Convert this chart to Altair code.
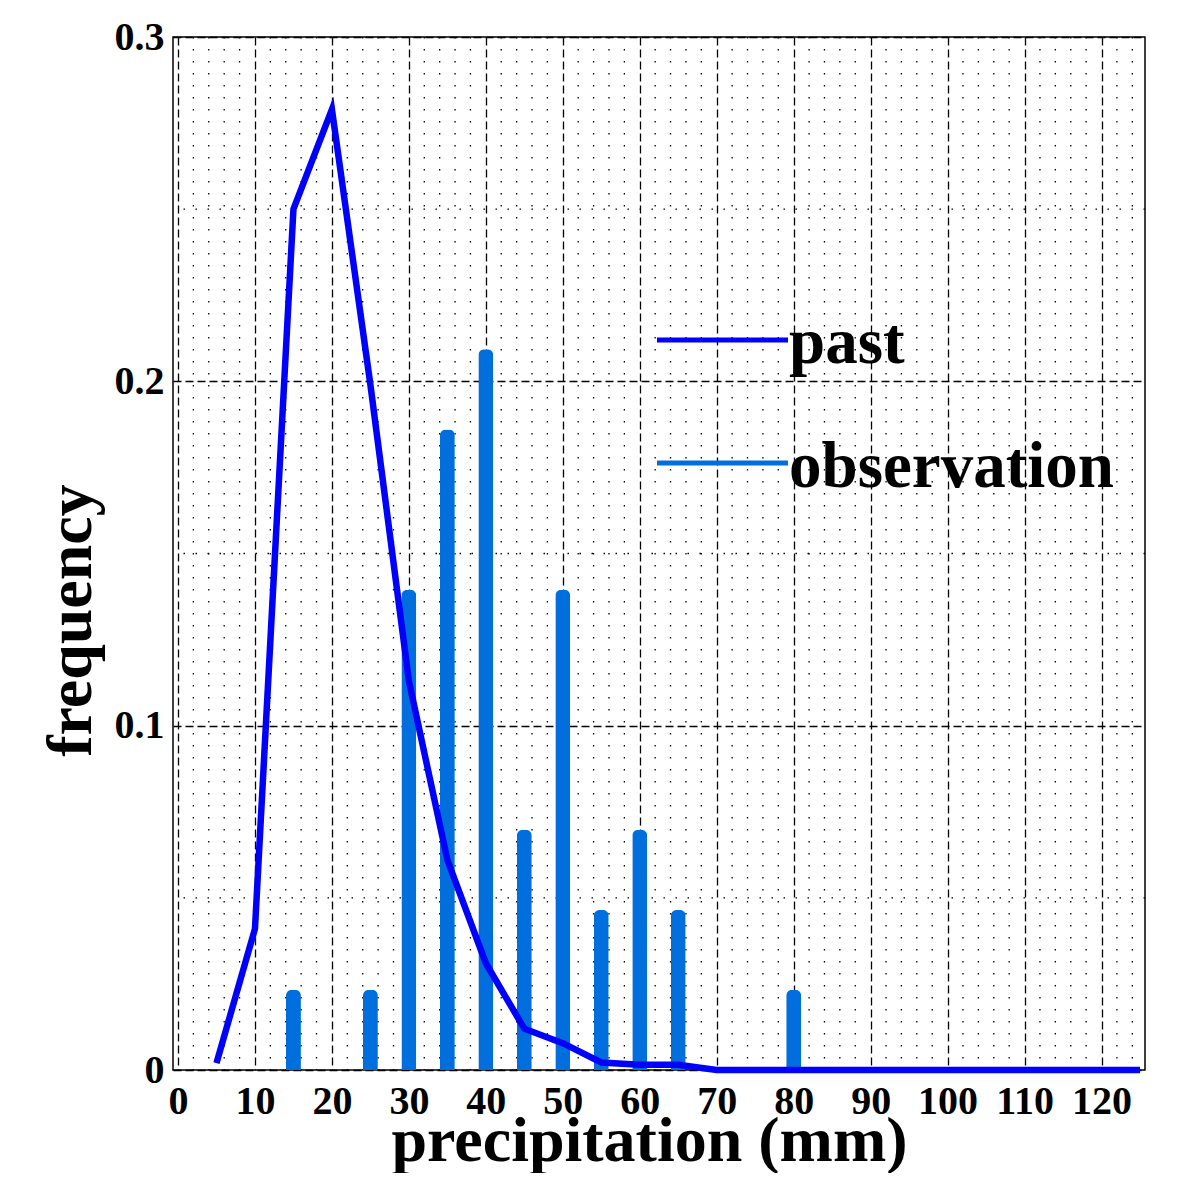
import altair as alt
import pandas as pd

# ---- data ----
past_x = [5, 10, 15, 20, 25, 30, 35, 40, 45, 50, 55, 60, 65,
          70, 75, 80, 85, 90, 95, 100, 105, 110, 115, 120, 125]
past_y = [0.002, 0.041, 0.250, 0.279, 0.199, 0.113, 0.061, 0.031, 0.012, 0.0078, 0.0022, 0.0015, 0.0015,
          0.0, 0.0, 0.0, 0.0, 0.0, 0.0, 0.0, 0.0, 0.0, 0.0, 0.0, 0.0]

obs_x = [15, 25, 30, 35, 40, 45, 50, 55, 60, 65, 80]
obs_y = [0.0233, 0.0233, 0.1395, 0.1860, 0.2093, 0.0698, 0.1395, 0.0465, 0.0698, 0.0465, 0.0233]

# major ticks (labelled, dashed grid)
x_major = [0, 10, 20, 30, 40, 50, 60, 70, 80, 90, 100, 110, 120]
y_major = [0, 0.1, 0.2, 0.3]
# minor ticks (dotted grid)
x_minor = [2, 4, 6, 8, 12, 14, 16, 18, 22, 24, 26, 28, 32, 34, 36, 38, 42, 44, 46, 48,
           52, 54, 56, 58, 62, 64, 66, 68, 72, 74, 76, 78, 82, 84, 86, 88, 92, 94, 96, 98,
           102, 104, 106, 108, 112, 114, 116, 118, 122, 124]
y_minor = [0.05, 0.15, 0.25]

legend_labels = ["past", "observation"]
past_color = "#0000FF"
obs_color = "#006EDC"

FONT = "Liberation Serif"

past_df = pd.DataFrame({"x": past_x, "y": past_y})
obs_df = pd.DataFrame({"x": obs_x, "y": obs_y})
xminor_df = pd.DataFrame({"x": x_minor})
yminor_df = pd.DataFrame({"y": y_minor})

x_scale = alt.Scale(domain=[0, 125], nice=False, zero=False)
y_scale = alt.Scale(domain=[0, 0.3], nice=False)

x_axis = alt.Axis(
    values=x_major,
    tickCount=100,
    format="d",
    grid=True, gridColor="black", gridWidth=1.3, gridDash=[8, 4],
    ticks=False, domain=False,
    labelFont=FONT, labelFontSize=40, labelFontWeight="bold", labelColor="black",
    labelPadding=11, labelFlush=False, labelOverlap=False, labelBaseline="top",
    title="precipitation (mm)",
    titleFont=FONT, titleFontSize=64, titleFontWeight="bold", titleColor="black",
    titleX=476, titleY=90, titleBaseline="alphabetic", titleAlign="center",
)

y_axis = alt.Axis(
    values=y_major,
    tickCount=100,
    labelExpr="datum.value === 0 ? '0' : format(datum.value, '.1f')",
    grid=True, gridColor="black", gridWidth=1.3, gridDash=[8, 4],
    ticks=False, domain=False,
    labelFont=FONT, labelFontSize=40, labelFontWeight="bold", labelColor="black",
    labelPadding=9, labelOverlap=False, labelBaseline="middle",
    title="frequency",
    titleFont=FONT, titleFontSize=64, titleFontWeight="bold", titleColor="black",
    titleAngle=270, titleX=-102, titleY=583, titleBaseline="middle", titleAlign="center",
)

minor_x_rules = alt.Chart(xminor_df).mark_rule(
    color="black", strokeWidth=1.3, strokeDash=[1.5, 10.5]
).encode(x=alt.X("x:Q", scale=x_scale, axis=x_axis))

minor_y_rules = alt.Chart(yminor_df).mark_rule(
    color="black", strokeWidth=1.3, strokeDash=[1.5, 10.5]
).encode(y=alt.Y("y:Q", scale=y_scale, axis=y_axis))

bars = alt.Chart(obs_df).mark_bar(
    size=15, color=obs_color, orient="vertical",
    cornerRadiusTopLeft=6, cornerRadiusTopRight=6,
).encode(
    x=alt.X("x:Q", scale=x_scale, axis=x_axis),
    y=alt.Y("y:Q", scale=y_scale, axis=y_axis),
)

line = alt.Chart(past_df).mark_line(color=past_color, strokeWidth=6.5).encode(
    x=alt.X("x:Q", scale=x_scale, axis=x_axis),
    y=alt.Y("y:Q", scale=y_scale, axis=y_axis),
)

one = pd.DataFrame({"k": [0]})

leg_rule_past = alt.Chart(one).mark_rule(color=past_color, strokeWidth=5).encode(
    x=alt.value(484), x2=alt.value(615), y=alt.value(303))
leg_rule_obs = alt.Chart(one).mark_rule(color=obs_color, strokeWidth=5).encode(
    x=alt.value(484), x2=alt.value(615), y=alt.value(426))
leg_text_past = alt.Chart(one).mark_text(
    text=legend_labels[0], align="left", baseline="alphabetic",
    font=FONT, fontSize=65, fontWeight="bold", color="black",
).encode(x=alt.value(616), y=alt.value(326))
leg_text_obs = alt.Chart(one).mark_text(
    text=legend_labels[1], align="left", baseline="alphabetic",
    font=FONT, fontSize=65, fontWeight="bold", color="black",
).encode(x=alt.value(616), y=alt.value(450))

chart = alt.layer(
    minor_x_rules, minor_y_rules, bars, line,
    leg_rule_past, leg_rule_obs, leg_text_past, leg_text_obs
).properties(
    width=972, height=1033,
    autosize=alt.AutoSizeParams(type="none"),
    padding={"left": 165, "top": 29, "right": 40, "bottom": 103},
    background="white",
).configure_view(
    stroke="black", strokeWidth=1.5,
)

chart.save("out.html", embed_options={"renderer": "svg", "actions": False})
